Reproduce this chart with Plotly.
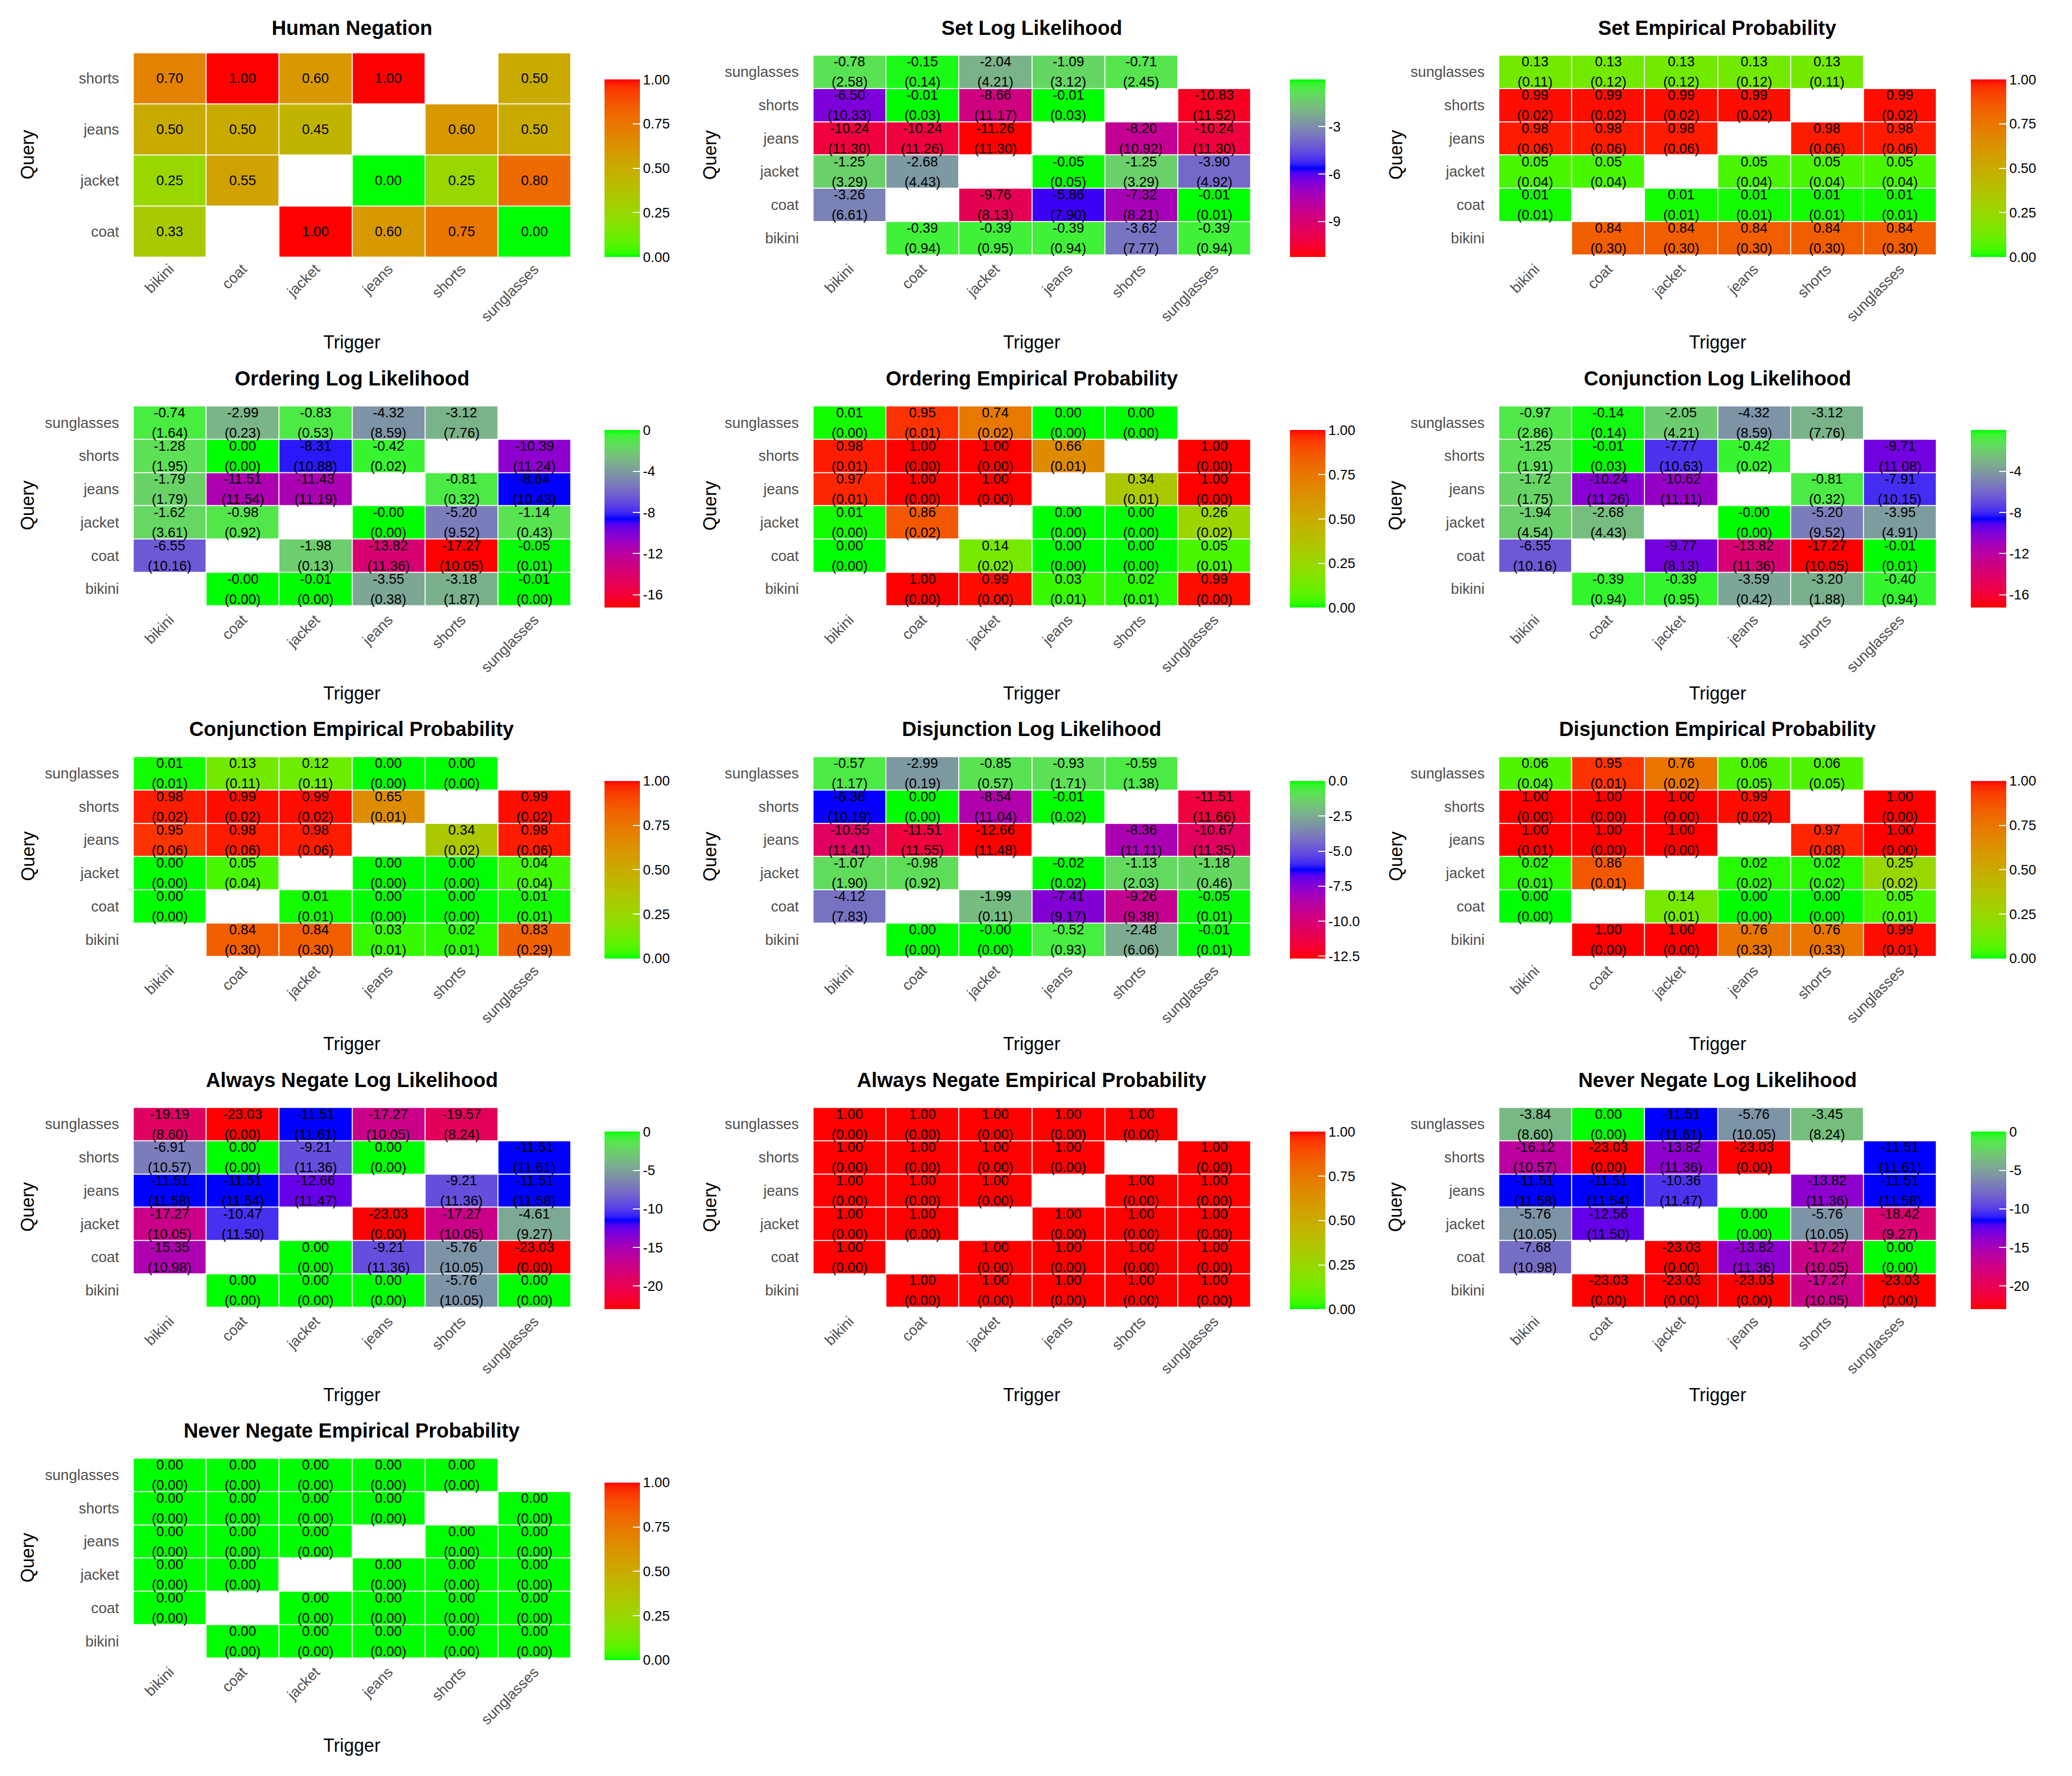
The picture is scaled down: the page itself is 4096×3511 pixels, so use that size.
import plotly.graph_objects as go

# ---------------- data ----------------
TRIGGERS = ["bikini", "coat", "jacket", "jeans", "shorts", "sunglasses"]
QUERIES = ["sunglasses", "shorts", "jeans", "jacket", "coat", "bikini"]  # top to bottom
HUMAN_QUERIES = ["shorts", "jeans", "jacket", "coat"]

HUMAN_NEG = [
    [0.70, 1.00, 0.60, 1.00, None, 0.50],
    [0.50, 0.50, 0.45, None, 0.60, 0.50],
    [0.25, 0.55, None, 0.00, 0.25, 0.80],
    [0.33, None, 1.00, 0.60, 0.75, 0.00],
]

SET_LL = [
    [-0.78, -0.15, -2.04, -1.09, -0.71, None],
    [-6.50, -0.01, -8.66, -0.01, None, -10.83],
    [-10.24, -10.24, -11.26, None, -8.20, -10.24],
    [-1.25, -2.68, None, -0.05, -1.25, -3.90],
    [-3.26, None, -9.76, -5.86, -7.32, -0.01],
    [None, -0.39, -0.39, -0.39, -3.62, -0.39],
]
SET_LL_SD = [
    [2.58, 0.14, 4.21, 3.12, 2.45, None],
    [10.33, 0.03, 11.17, 0.03, None, 11.52],
    [11.30, 11.26, 11.30, None, 10.92, 11.30],
    [3.29, 4.43, None, 0.05, 3.29, 4.92],
    [6.61, None, 8.13, 7.90, 8.21, 0.01],
    [None, 0.94, 0.95, 0.94, 7.77, 0.94],
]

SET_EP = [
    [0.13, 0.13, 0.13, 0.13, 0.13, None],
    [0.99, 0.99, 0.99, 0.99, None, 0.99],
    [0.98, 0.98, 0.98, None, 0.98, 0.98],
    [0.05, 0.05, None, 0.05, 0.05, 0.05],
    [0.01, None, 0.01, 0.01, 0.01, 0.01],
    [None, 0.84, 0.84, 0.84, 0.84, 0.84],
]
SET_EP_SD = [
    [0.11, 0.12, 0.12, 0.12, 0.11, None],
    [0.02, 0.02, 0.02, 0.02, None, 0.02],
    [0.06, 0.06, 0.06, None, 0.06, 0.06],
    [0.04, 0.04, None, 0.04, 0.04, 0.04],
    [0.01, None, 0.01, 0.01, 0.01, 0.01],
    [None, 0.30, 0.30, 0.30, 0.30, 0.30],
]

ORD_LL = [
    [-0.74, -2.99, -0.83, -4.32, -3.12, None],
    [-1.28, 0.00, -8.31, -0.42, None, -10.39],
    [-1.79, -11.51, -11.43, None, -0.81, -8.64],
    [-1.62, -0.98, None, -0.00, -5.20, -1.14],
    [-6.55, None, -1.98, -13.82, -17.27, -0.05],
    [None, -0.00, -0.01, -3.55, -3.18, -0.01],
]
ORD_LL_SD = [
    [1.64, 0.23, 0.53, 8.59, 7.76, None],
    [1.95, 0.00, 10.88, 0.02, None, 11.24],
    [1.79, 11.54, 11.19, None, 0.32, 10.43],
    [3.61, 0.92, None, 0.00, 9.52, 0.43],
    [10.16, None, 0.13, 11.36, 10.05, 0.01],
    [None, 0.00, 0.00, 0.38, 1.87, 0.00],
]

ORD_EP = [
    [0.01, 0.95, 0.74, 0.00, 0.00, None],
    [0.98, 1.00, 1.00, 0.66, None, 1.00],
    [0.97, 1.00, 1.00, None, 0.34, 1.00],
    [0.01, 0.86, None, 0.00, 0.00, 0.26],
    [0.00, None, 0.14, 0.00, 0.00, 0.05],
    [None, 1.00, 0.99, 0.03, 0.02, 0.99],
]
ORD_EP_SD = [
    [0.00, 0.01, 0.02, 0.00, 0.00, None],
    [0.01, 0.00, 0.00, 0.01, None, 0.00],
    [0.01, 0.00, 0.00, None, 0.01, 0.00],
    [0.00, 0.02, None, 0.00, 0.00, 0.02],
    [0.00, None, 0.02, 0.00, 0.00, 0.01],
    [None, 0.00, 0.00, 0.01, 0.01, 0.00],
]

CONJ_LL = [
    [-0.97, -0.14, -2.05, -4.32, -3.12, None],
    [-1.25, -0.01, -7.77, -0.42, None, -9.71],
    [-1.72, -10.24, -10.62, None, -0.81, -7.91],
    [-1.94, -2.68, None, -0.00, -5.20, -3.95],
    [-6.55, None, -9.77, -13.82, -17.27, -0.01],
    [None, -0.39, -0.39, -3.59, -3.20, -0.40],
]
CONJ_LL_SD = [
    [2.86, 0.14, 4.21, 8.59, 7.76, None],
    [1.91, 0.03, 10.63, 0.02, None, 11.08],
    [1.75, 11.26, 11.11, None, 0.32, 10.15],
    [4.54, 4.43, None, 0.00, 9.52, 4.91],
    [10.16, None, 8.13, 11.36, 10.05, 0.01],
    [None, 0.94, 0.95, 0.42, 1.88, 0.94],
]

CONJ_EP = [
    [0.01, 0.13, 0.12, 0.00, 0.00, None],
    [0.98, 0.99, 0.99, 0.65, None, 0.99],
    [0.95, 0.98, 0.98, None, 0.34, 0.98],
    [0.00, 0.05, None, 0.00, 0.00, 0.04],
    [0.00, None, 0.01, 0.00, 0.00, 0.01],
    [None, 0.84, 0.84, 0.03, 0.02, 0.83],
]
CONJ_EP_SD = [
    [0.01, 0.11, 0.11, 0.00, 0.00, None],
    [0.02, 0.02, 0.02, 0.01, None, 0.02],
    [0.06, 0.06, 0.06, None, 0.02, 0.06],
    [0.00, 0.04, None, 0.00, 0.00, 0.04],
    [0.00, None, 0.01, 0.00, 0.00, 0.01],
    [None, 0.30, 0.30, 0.01, 0.01, 0.29],
]

DISJ_LL = [
    [-0.57, -2.99, -0.85, -0.93, -0.59, None],
    [-6.36, 0.00, -8.54, -0.01, None, -11.51],
    [-10.55, -11.51, -12.66, None, -8.36, -10.67],
    [-1.07, -0.98, None, -0.02, -1.13, -1.18],
    [-4.12, None, -1.99, -7.41, -9.26, -0.05],
    [None, 0.00, -0.00, -0.52, -2.48, -0.01],
]
DISJ_LL_SD = [
    [1.17, 0.19, 0.57, 1.71, 1.38, None],
    [10.19, 0.00, 11.04, 0.02, None, 11.66],
    [11.41, 11.55, 11.48, None, 11.11, 11.35],
    [1.90, 0.92, None, 0.02, 2.03, 0.46],
    [7.83, None, 0.11, 9.17, 9.38, 0.01],
    [None, 0.00, 0.00, 0.93, 6.06, 0.01],
]

DISJ_EP = [
    [0.06, 0.95, 0.76, 0.06, 0.06, None],
    [1.00, 1.00, 1.00, 0.99, None, 1.00],
    [1.00, 1.00, 1.00, None, 0.97, 1.00],
    [0.02, 0.86, None, 0.02, 0.02, 0.25],
    [0.00, None, 0.14, 0.00, 0.00, 0.05],
    [None, 1.00, 1.00, 0.76, 0.76, 0.99],
]
DISJ_EP_SD = [
    [0.04, 0.01, 0.02, 0.05, 0.05, None],
    [0.00, 0.00, 0.00, 0.02, None, 0.00],
    [0.01, 0.00, 0.00, None, 0.08, 0.00],
    [0.01, 0.01, None, 0.02, 0.02, 0.02],
    [0.00, None, 0.01, 0.00, 0.00, 0.01],
    [None, 0.00, 0.00, 0.33, 0.33, 0.01],
]

ALWAYS_LL = [
    [-19.19, -23.03, -11.51, -17.27, -19.57, None],
    [-6.91, 0.00, -9.21, 0.00, None, -11.51],
    [-11.51, -11.51, -12.66, None, -9.21, -11.51],
    [-17.27, -10.47, None, -23.03, -17.27, -4.61],
    [-15.35, None, 0.00, -9.21, -5.76, -23.03],
    [None, 0.00, 0.00, 0.00, -5.76, 0.00],
]
ALWAYS_LL_SD = [
    [8.60, 0.00, 11.61, 10.05, 8.24, None],
    [10.57, 0.00, 11.36, 0.00, None, 11.61],
    [11.58, 11.54, 11.47, None, 11.36, 11.58],
    [10.05, 11.50, None, 0.00, 10.05, 9.27],
    [10.98, None, 0.00, 11.36, 10.05, 0.00],
    [None, 0.00, 0.00, 0.00, 10.05, 0.00],
]

ALWAYS_EP = [
    [1.00, 1.00, 1.00, 1.00, 1.00, None],
    [1.00, 1.00, 1.00, 1.00, None, 1.00],
    [1.00, 1.00, 1.00, None, 1.00, 1.00],
    [1.00, 1.00, None, 1.00, 1.00, 1.00],
    [1.00, None, 1.00, 1.00, 1.00, 1.00],
    [None, 1.00, 1.00, 1.00, 1.00, 1.00],
]
ALWAYS_EP_SD = [
    [0.00, 0.00, 0.00, 0.00, 0.00, None],
    [0.00, 0.00, 0.00, 0.00, None, 0.00],
    [0.00, 0.00, 0.00, None, 0.00, 0.00],
    [0.00, 0.00, None, 0.00, 0.00, 0.00],
    [0.00, None, 0.00, 0.00, 0.00, 0.00],
    [None, 0.00, 0.00, 0.00, 0.00, 0.00],
]

NEVER_LL = [
    [-3.84, 0.00, -11.51, -5.76, -3.45, None],
    [-16.12, -23.03, -13.82, -23.03, None, -11.51],
    [-11.51, -11.51, -10.36, None, -13.82, -11.51],
    [-5.76, -12.56, None, 0.00, -5.76, -18.42],
    [-7.68, None, -23.03, -13.82, -17.27, 0.00],
    [None, -23.03, -23.03, -23.03, -17.27, -23.03],
]
NEVER_LL_SD = [
    [8.60, 0.00, 11.61, 10.05, 8.24, None],
    [10.57, 0.00, 11.36, 0.00, None, 11.61],
    [11.58, 11.54, 11.47, None, 11.36, 11.58],
    [10.05, 11.50, None, 0.00, 10.05, 9.27],
    [10.98, None, 0.00, 11.36, 10.05, 0.00],
    [None, 0.00, 0.00, 0.00, 10.05, 0.00],
]

NEVER_EP = [
    [0.00, 0.00, 0.00, 0.00, 0.00, None],
    [0.00, 0.00, 0.00, 0.00, None, 0.00],
    [0.00, 0.00, 0.00, None, 0.00, 0.00],
    [0.00, 0.00, None, 0.00, 0.00, 0.00],
    [0.00, None, 0.00, 0.00, 0.00, 0.00],
    [None, 0.00, 0.00, 0.00, 0.00, 0.00],
]
NEVER_EP_SD = [
    [0.00, 0.00, 0.00, 0.00, 0.00, None],
    [0.00, 0.00, 0.00, 0.00, None, 0.00],
    [0.00, 0.00, 0.00, None, 0.00, 0.00],
    [0.00, 0.00, None, 0.00, 0.00, 0.00],
    [0.00, None, 0.00, 0.00, 0.00, 0.00],
    [None, 0.00, 0.00, 0.00, 0.00, 0.00],
]

PROB_TICKS = [0.0, 0.25, 0.5, 0.75, 1.0]
SET_LL_TICKS = [-3, -6, -9]
ORD_LL_TICKS = [0, -4, -8, -12, -16]
CONJ_LL_TICKS = [-4, -8, -12, -16]
DISJ_LL_TICKS = [0.0, -2.5, -5.0, -7.5, -10.0, -12.5]
ALWAYS_LL_TICKS = [0, -5, -10, -15, -20]
NEVER_LL_TICKS = [0, -5, -10, -15, -20]

PANELS = [
    ("Human Negation", HUMAN_NEG, None, HUMAN_QUERIES, "prob", PROB_TICKS),
    ("Set Log Likelihood", SET_LL, SET_LL_SD, QUERIES, "ll", SET_LL_TICKS),
    ("Set Empirical Probability", SET_EP, SET_EP_SD, QUERIES, "prob", PROB_TICKS),
    ("Ordering Log Likelihood", ORD_LL, ORD_LL_SD, QUERIES, "ll", ORD_LL_TICKS),
    ("Ordering Empirical Probability", ORD_EP, ORD_EP_SD, QUERIES, "prob", PROB_TICKS),
    ("Conjunction Log Likelihood", CONJ_LL, CONJ_LL_SD, QUERIES, "ll", CONJ_LL_TICKS),
    ("Conjunction Empirical Probability", CONJ_EP, CONJ_EP_SD, QUERIES, "prob", PROB_TICKS),
    ("Disjunction Log Likelihood", DISJ_LL, DISJ_LL_SD, QUERIES, "ll", DISJ_LL_TICKS),
    ("Disjunction Empirical Probability", DISJ_EP, DISJ_EP_SD, QUERIES, "prob", PROB_TICKS),
    ("Always Negate Log Likelihood", ALWAYS_LL, ALWAYS_LL_SD, QUERIES, "ll", ALWAYS_LL_TICKS),
    ("Always Negate Empirical Probability", ALWAYS_EP, ALWAYS_EP_SD, QUERIES, "prob", PROB_TICKS),
    ("Never Negate Log Likelihood", NEVER_LL, NEVER_LL_SD, QUERIES, "ll", NEVER_LL_TICKS),
    ("Never Negate Empirical Probability", NEVER_EP, NEVER_EP_SD, QUERIES, "prob", PROB_TICKS),
]

# ---------------- colour scales (CIELAB interpolation, like ggplot) ----------------
def _lin(c):
    c = c / 255.0
    return c / 12.92 if c <= 0.04045 else ((c + 0.055) / 1.055) ** 2.4

def _gam(c):
    c = 12.92 * c if c <= 0.0031308 else 1.055 * c ** (1 / 2.4) - 0.055
    return max(0, min(255, round(c * 255)))

XN, YN, ZN = 0.95047, 1.0, 1.08883

def rgb2lab(rgb):
    r, g, b = [_lin(v) for v in rgb]
    X = 0.4124564 * r + 0.3575761 * g + 0.1804375 * b
    Y = 0.2126729 * r + 0.7151522 * g + 0.0721750 * b
    Z = 0.0193339 * r + 0.1191920 * g + 0.9503041 * b
    f = lambda t: t ** (1 / 3) if t > 0.008856 else 7.787 * t + 16 / 116
    fx, fy, fz = f(X / XN), f(Y / YN), f(Z / ZN)
    return (116 * fy - 16, 500 * (fx - fy), 200 * (fy - fz))

def lab2rgb(lab):
    L, a, b = lab
    fy = (L + 16) / 116
    fx = fy + a / 500
    fz = fy - b / 200
    finv = lambda t: t ** 3 if t ** 3 > 0.008856 else (t - 16 / 116) / 7.787
    X, Y, Z = XN * finv(fx), YN * finv(fy), ZN * finv(fz)
    r = 3.2404542 * X - 1.5371385 * Y - 0.4985314 * Z
    g = -0.9692660 * X + 1.8760108 * Y + 0.0415560 * Z
    bb = 0.0556434 * X - 0.2040259 * Y + 1.0572252 * Z
    r, g, bb = [min(1, max(0, v)) for v in (r, g, bb)]
    return "rgb(%d,%d,%d)" % (_gam(r), _gam(g), _gam(bb))

def lab_scale(anchors, n=41):
    labs = [rgb2lab(c) for c in anchors]
    k = len(labs) - 1
    out = []
    for i in range(n):
        t = i / (n - 1)
        seg = min(int(t * k), k - 1)
        u = t * k - seg
        l0, l1 = labs[seg], labs[seg + 1]
        out.append([t, lab2rgb(tuple(l0[j] + (l1[j] - l0[j]) * u for j in range(3)))])
    return out

PROB_SCALE = lab_scale([(0, 255, 0), (255, 0, 0)])
LL_SCALE = lab_scale([(255, 0, 0), (0, 0, 255), (0, 255, 0)])

# ---------------- layout geometry (reference px, 4200 x 3600) ----------------
RW, RH = 4200.0, 3600.0
SCALE = 0.975
COL_X0 = [270, 1648, 3038]
HM_W = 887
ROW_Y0 = 107
ROW_STEP = 711
HM_H = 414
CB_X = [1225, 2615, 3995]
QUERY_X = [56, 1439, 2829]
LINE_OFF = 20.5  # half distance between value line and sd line (ref px)

FONT = "Liberation Sans"
px = lambda v: v * SCALE
ipx = lambda v: int(round(v * SCALE))

fig = go.Figure()
annotations = []

def fmt_tick(v, kind, ticks):
    if kind == "prob":
        return "%.2f" % v
    if any(abs(t - round(t)) > 1e-9 for t in ticks):
        return "%.1f" % v
    return "%d" % v

for k, (title, vals, sds, qs, kind, ticks) in enumerate(PANELS):
    r, c = divmod(k, 3)
    ax = "" if k == 0 else str(k + 1)
    x0 = COL_X0[c]
    y0 = ROW_Y0 + ROW_STEP * r
    xd = [x0 / RW, (x0 + HM_W) / RW]
    yd = [1 - (y0 + HM_H) / RH, 1 - y0 / RH]

    flat = [v for row in vals for v in row if v is not None]
    if kind == "prob":
        zmin, zmax, cs = 0.0, 1.0, PROB_SCALE
    else:
        zmin, zmax, cs = min(flat), max(flat), LL_SCALE

    fig.add_trace(go.Heatmap(
        z=vals, x=TRIGGERS, y=qs,
        colorscale=cs, zmin=zmin, zmax=zmax, xgap=2, ygap=2,
        hoverinfo="skip",
        xaxis="x" + ax, yaxis="y" + ax,
        colorbar=dict(
            x=CB_X[c] / RW, xanchor="left", xpad=0,
            y=1 - (y0 + 234) / RH, yanchor="middle", ypad=0,
            len=360 / RH, lenmode="fraction", thickness=ipx(72),
            outlinewidth=0, ticks="inside", ticklen=ipx(14), tickwidth=2,
            tickcolor="white", tickvals=ticks,
            ticktext=[fmt_tick(t, kind, ticks) for t in ticks],
            tickfont=dict(family=FONT, size=px(28), color="black"),
        ),
    ))

    # cell labels: value and (sd)
    for i, row in enumerate(vals):
        for j, v in enumerate(row):
            if v is None:
                continue
            base = dict(x=TRIGGERS[j], y=qs[i], xref="x" + ax, yref="y" + ax,
                        showarrow=False, xanchor="center", yanchor="middle",
                        font=dict(family=FONT, size=px(28), color="black"))
            if sds is None:
                annotations.append(dict(text="%.2f" % v, **base))
            else:
                annotations.append(dict(text="%.2f" % v, yshift=px(LINE_OFF), **base))
                annotations.append(dict(text="(%.2f)" % sds[i][j], yshift=-px(LINE_OFF), **base))

    fig.update_layout(**{
        "xaxis" + ax: dict(domain=xd, anchor="y" + ax, type="category",
                           categoryorder="array", categoryarray=TRIGGERS,
                           showgrid=False, zeroline=False, showline=False,
                           ticks="", tickangle=-45, ticklabelstandoff=0,
                           tickfont=dict(family=FONT, size=px(30), color="#4D4D4D")),
        "yaxis" + ax: dict(domain=yd, anchor="x" + ax, type="category",
                           categoryorder="array", categoryarray=qs[::-1],
                           showgrid=False, zeroline=False, showline=False,
                           ticks="", ticklabelstandoff=ipx(28),
                           tickfont=dict(family=FONT, size=px(30), color="#4D4D4D")),
    })

    cx = (x0 + HM_W / 2) / RW
    annotations.append(dict(text="<b>%s</b>" % title, x=cx, y=1 - (56 + ROW_STEP * r) / RH,
                            xref="paper", yref="paper", showarrow=False,
                            xanchor="center", yanchor="middle",
                            font=dict(family=FONT, size=px(41), color="black")))
    annotations.append(dict(text="Trigger", x=cx, y=1 - (694 + ROW_STEP * r) / RH,
                            xref="paper", yref="paper", showarrow=False,
                            xanchor="center", yanchor="middle",
                            font=dict(family=FONT, size=px(37), color="black")))
    annotations.append(dict(text="Query", x=QUERY_X[c] / RW, y=1 - (y0 + HM_H / 2) / RH,
                            xref="paper", yref="paper", showarrow=False, textangle=-90,
                            xanchor="center", yanchor="middle",
                            font=dict(family=FONT, size=px(37), color="black")))

fig.update_layout(
    width=4096, height=3511, margin=dict(l=0, r=0, t=0, b=0),
    paper_bgcolor="white", plot_bgcolor="white",
    annotations=annotations, showlegend=False,
    font=dict(family=FONT),
)

fig.write_html("out.html")
